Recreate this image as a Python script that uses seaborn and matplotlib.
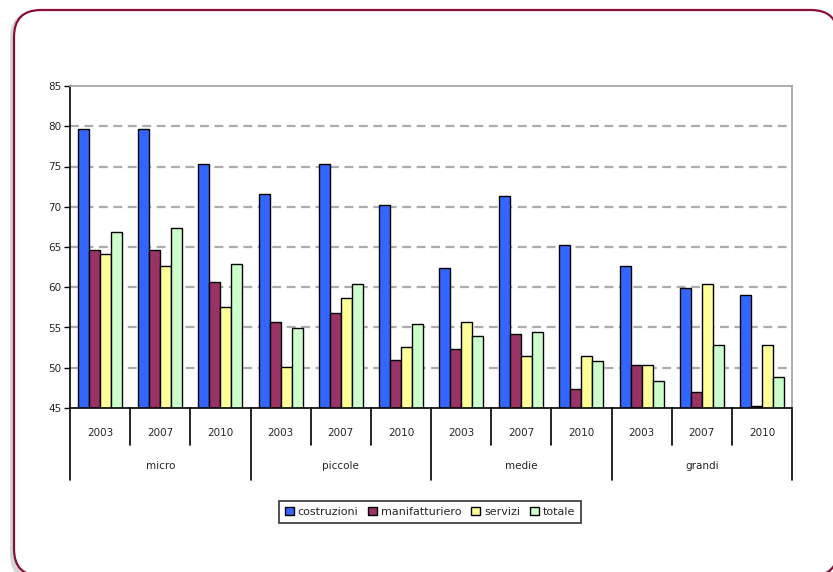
import matplotlib
matplotlib.use("Agg")
import matplotlib.pyplot as plt
from matplotlib.patches import FancyBboxPatch
import seaborn as sns
import pandas as pd

# data
groups = ["micro", "piccole", "medie", "grandi"]
years = ["2003", "2007", "2010"]
series = ["costruzioni", "manifatturiero", "servizi", "totale"]
costruzioni = [79.7, 79.7, 75.3, 71.6, 75.3, 70.2, 62.4, 71.3, 65.2, 62.6, 59.9, 59.0]
manifatturiero = [64.6, 64.6, 60.6, 55.7, 56.8, 51.0, 52.3, 54.2, 47.3, 50.3, 47.0, 45.3]
servizi = [64.1, 62.6, 57.6, 50.1, 58.7, 52.6, 55.7, 51.5, 51.5, 50.3, 60.4, 52.8]
totale = [66.9, 67.4, 62.9, 54.9, 60.4, 55.4, 53.9, 54.5, 50.9, 48.3, 52.8, 48.9]
colors = ["#3366FF", "#993366", "#FFFF99", "#CCFFCC"]

sns.set_theme(style="white")
plt.rcParams['font.family'] = ['DejaVu Sans']

rows = []
for name, vals in zip(series, [costruzioni, manifatturiero, servizi, totale]):
    for i, v in enumerate(vals):
        rows.append({"pos": i, "serie": name, "valore": v})
df = pd.DataFrame(rows)

W, H = 833, 572
fig = plt.figure(figsize=(W / 100, H / 100), dpi=100)
fig.patch.set_facecolor("white")

# rounded frame with shadow (inch coordinates)
shadow = FancyBboxPatch((0.10, -0.09), 8.26, 5.70,
                        boxstyle="round,pad=0,rounding_size=0.27",
                        transform=fig.dpi_scale_trans, facecolor="#d6d6d6",
                        edgecolor="none", zorder=-2)
frame = FancyBboxPatch((0.14, -0.04), 8.24, 5.66,
                       boxstyle="round,pad=0,rounding_size=0.27",
                       transform=fig.dpi_scale_trans, facecolor="white",
                       edgecolor="#8a0e3c", linewidth=1.6, zorder=-1)
fig.patches.extend([shadow, frame])

ax = fig.add_axes([70 / W, 1 - 408 / H, 722 / W, 322 / H])
ax.set_facecolor("white")

sns.barplot(data=df, x="pos", y="valore", hue="serie", hue_order=series,
            palette=colors, width=0.73, edgecolor="black", linewidth=1.0,
            saturation=1, ax=ax, legend=True)

ax.set_ylim(45, 85)
ax.set_xlim(-0.5, 11.5)
ax.set_yticks(range(45, 90, 5))
ax.tick_params(axis="y", labelsize=7.5, length=4, width=1, color="black",
               direction="out", pad=2, left=True)
ax.set_xticks([])
ax.set_xlabel("")
ax.set_ylabel("")

for v in range(50, 85, 5):
    ax.axhline(v, color="#acacac", linestyle=(0, (4, 2.5)), linewidth=1.6, zorder=0)

for s in ["left", "bottom"]:
    ax.spines[s].set_color("black")
    ax.spines[s].set_linewidth(1.2)
for s in ["top", "right"]:
    ax.spines[s].set_color("#a0a0a0")
    ax.spines[s].set_linewidth(1.2)

# multi-level category axis
trans = ax.get_xaxis_transform()
for i in range(13):
    x = i - 0.5
    bottom = -0.224 if i % 3 == 0 else -0.115
    ax.plot([x, x], [0, bottom], color="black", linewidth=1.2,
            transform=trans, clip_on=False)
for i in range(12):
    ax.text(i, -0.078, years[i % 3], transform=trans, ha="center",
            va="center", fontsize=7.5)
for g, name in enumerate(groups):
    ax.text(3 * g + 1, -0.18, name, transform=trans, ha="center",
            va="center", fontsize=7.5)

leg = ax.legend(loc="center", bbox_to_anchor=(0.4986, -0.323), ncol=4,
                fontsize=8, frameon=True, fancybox=False,
                handlelength=0.8, handleheight=0.8, handletextpad=0.35,
                columnspacing=0.9, borderpad=0.55, borderaxespad=0)
leg.get_frame().set_edgecolor("black")
leg.get_frame().set_linewidth(1.2)

fig.savefig("out.png", dpi=100)
